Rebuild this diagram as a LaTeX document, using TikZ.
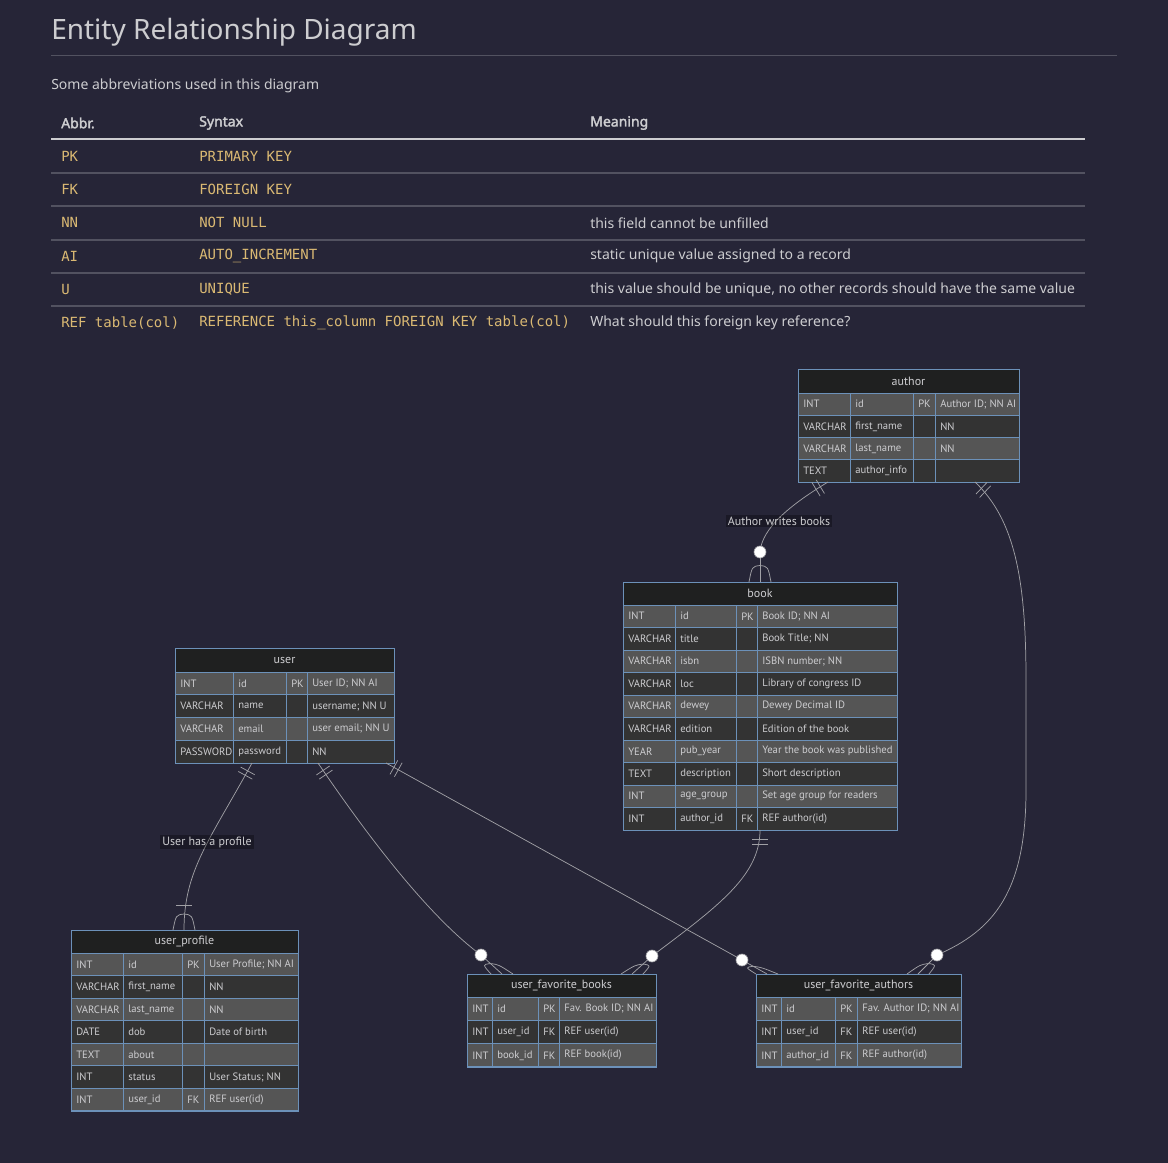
\documentclass[tikz,border=0pt]{standalone}
\usepackage{fontspec}
\setmainfont{Noto Sans}[AutoFakeBold=2.2]
\setmonofont{DejaVu Sans Mono}
\newfontfamily\erfont{PT Sans}
\usepackage{tikz}
\usetikzlibrary{calc,positioning}

\definecolor{pagebg}{RGB}{38,37,55}
\definecolor{txt}{RGB}{205,205,208}
\definecolor{codetxt}{RGB}{218,185,115}
\definecolor{rulegray}{RGB}{82,82,96}
\definecolor{erhead}{RGB}{31,32,32}
\definecolor{erlight}{RGB}{85,85,85}
\definecolor{erdark}{RGB}{51,51,51}
\definecolor{erline}{RGB}{108,145,185}
\definecolor{relgray}{RGB}{160,160,165}

\tikzset{
  celltext/.style={anchor=west, font=\erfont\fontsize{8}{9}\selectfont, text=txt, inner sep=0pt},
  headtext/.style={font=\erfont\fontsize{9}{10}\selectfont, text=txt, inner sep=0pt},
  cellframe/.style={draw=erline, line width=0.75pt},
  relline/.style={draw=relgray, line width=0.55pt},
  circ/.style={fill=white, draw=relgray, line width=0.5pt},
  rellabel/.style={font=\erfont\fontsize{9}{10}\selectfont, text=txt, fill=black, fill opacity=0.3, text opacity=1, inner sep=1.5pt},
  abbrtext/.style={anchor=west, font=\ttfamily\fontsize{10.5}{12}\selectfont, text=codetxt, inner sep=0pt},
  meantext/.style={anchor=west, font=\fontsize{10.5}{12}\selectfont, text=txt, inner sep=0pt},
  colhead/.style={anchor=west, font=\bfseries\fontsize{10.5}{12}\selectfont, text=txt, inner sep=0pt},
}

\newcommand{\ercols}[5]{\def\cA{#1}\def\cB{#2}\def\cC{#3}\def\cD{#4}\def\cE{#5}}
\newcommand{\ertitle}[5]{%
  \def\rtop{#3}\def\rh{#4}%
  \fill[erhead] (\cA,#2) rectangle (\cE,#3);
  \node[headtext] (#1) at ({(\cA+\cE)/2},{(#2+#3)/2}) {#5};
}
\newcommand{\errow}[5]{%
  \pgfmathsetmacro\ya{\rtop+#1*\rh}%
  \pgfmathsetmacro\yb{\ya+\rh}%
  \pgfmathsetmacro\ym{\ya+\rh/2}%
  \pgfmathtruncatemacro\odd{mod(#1,2)}%
  \ifnum\odd=0 \def\rowfill{erlight}\else\def\rowfill{erdark}\fi
  \fill[\rowfill] (\cA,\ya) rectangle (\cE,\yb);
  \draw[cellframe] (\cA,\ya) rectangle (\cB,\yb) (\cB,\ya) rectangle (\cC,\yb)
    (\cC,\ya) rectangle (\cD,\yb) (\cD,\ya) rectangle (\cE,\yb);
  \node[celltext] at (\cA+5,\ym) {#2};
  \node[celltext] at (\cB+5,\ym) {#3};
  \node[celltext] at (\cC+5,\ym) {#4};
  \node[celltext] at (\cD+5,\ym) {#5};
}
\newcommand{\reltick}[3]{%
  \coordinate (rb) at ($(#1)!#3!(#2)$);
  \draw[relline] ($(rb)!6pt!90:(#2)$) -- ($(rb)!6pt!-90:(#2)$);
}
\newcommand{\exactlyone}[2]{\reltick{#1}{#2}{6.75pt}\reltick{#1}{#2}{10.5pt}}
\newcommand{\crowfan}[2]{%
  \draw[relline] (#1) .. controls ($(#1)+(-8,1)$) .. ($(#2)+(-11,0)$);
  \draw[relline] (#1) .. controls ($(#1)+(8,1)$) .. ($(#2)+(11,0)$);
}
\newcommand{\zeromany}[2]{%
  \coordinate (zm) at ($(#1)!0.45!(#2)$);
  \draw[relline] (#1) -- (#2);
  \crowfan{zm}{#2}
  \draw[circ] (#1) circle (4.5pt);
}

\begin{document}
\begin{tikzpicture}[x=0.75pt, y=-0.75pt]
\fill[pagebg] (0,0) rectangle (1168,1163);
\useasboundingbox (0,0) rectangle (1168,1163);

\node[anchor=base west, font=\fontsize{21}{24}\selectfont, text=txt, inner sep=0pt] (title) at (51,40) {Entity Relationship Diagram};
\draw[rulegray] (51,55) -- (1117,55);
\node[meantext] (intro) at (51,86) {Some abbreviations used in this diagram};

\node[colhead] (abbrhead) at (61,123) {Abbr.};
\node[colhead] (synhead) at (199,123) {Syntax};
\node[colhead] (meanhead) at (590,123) {Meaning};
\draw[txt, line width=1pt] (51,139) -- (1085,139);
\foreach \y in {173,206,240,273,306}
  \draw[rulegray, line width=0.8pt] (51,\y) -- (1085,\y);
\foreach \ab/\sy/\me [count=\i from 0] in {
    PK/PRIMARY KEY/{},
    FK/FOREIGN KEY/{},
    NN/NOT NULL/{this field cannot be unfilled},
    AI/AUTO\_INCREMENT/{static unique value assigned to a record},
    U/UNIQUE/{this value should be unique, no other records should have the same value},
    REF table(col)/REFERENCE this\_column FOREIGN KEY table(col)/{What should this foreign key reference?}} {
  \node[abbrtext] (abbr-\i) at (61,156+\i*33.4) {\ab};
  \node[abbrtext] (syn-\i) at (199,156+\i*33.4) {\sy};
  \node[meantext] (mean-\i) at (590,156+\i*33.4) {\me};
}

\ercols{798}{850}{913}{935}{1019}
\ertitle{author}{369}{393}{22.25}{author}
\foreach \ertype/\ername/\erkey/\ernote [count=\i from 0] in {
    INT/id/PK/{Author ID; NN AI},
    VARCHAR/first\_name/{}/NN,
    VARCHAR/last\_name/{}/NN,
    TEXT/author\_info/{}/{}}
  {\errow{\i}{\ertype}{\ername}{\erkey}{\ernote}}
\draw[cellframe] (\cA,369) rectangle (\cE,482);

\ercols{623}{675}{736}{757}{897}
\ertitle{book}{582}{605}{22.5}{book}
\foreach \ertype/\ername/\erkey/\ernote [count=\i from 0] in {
    INT/id/PK/{Book ID; NN AI},
    VARCHAR/title/{}/{Book Title; NN},
    VARCHAR/isbn/{}/{ISBN number; NN},
    VARCHAR/loc/{}/{Library of congress ID},
    VARCHAR/dewey/{}/{Dewey Decimal ID},
    VARCHAR/edition/{}/{Edition of the book},
    YEAR/pub\_year/{}/{Year the book was published},
    TEXT/description/{}/{Short description},
    INT/age\_group/{}/{Set age group for readers},
    INT/author\_id/FK/{REF author(id)}}
  {\errow{\i}{\ertype}{\ername}{\erkey}{\ernote}}
\draw[cellframe] (\cA,582) rectangle (\cE,830);

\ercols{175}{233}{286}{307}{394}
\ertitle{user}{648}{672}{22.75}{user}
\foreach \ertype/\ername/\erkey/\ernote [count=\i from 0] in {
    INT/id/PK/{User ID; NN AI},
    VARCHAR/name/{}/{username; NN U},
    VARCHAR/email/{}/{user email; NN U},
    PASSWORD/password/{}/NN}
  {\errow{\i}{\ertype}{\ername}{\erkey}{\ernote}}
\draw[cellframe] (\cA,648) rectangle (\cE,763);

\ercols{71}{123}{182}{204}{298}
\ertitle{profile}{930}{953}{22.57}{user\_profile}
\foreach \ertype/\ername/\erkey/\ernote [count=\i from 0] in {
    INT/id/PK/{User Profile; NN AI},
    VARCHAR/first\_name/{}/NN,
    VARCHAR/last\_name/{}/NN,
    DATE/dob/{}/{Date of birth},
    TEXT/about/{}/{},
    INT/status/{}/{User Status; NN},
    INT/user\_id/FK/{REF user(id)}}
  {\errow{\i}{\ertype}{\ername}{\erkey}{\ernote}}
\draw[cellframe] (\cA,930) rectangle (\cE,1111);

\ercols{467}{492}{538}{559}{656}
\ertitle{favbooks}{974}{997}{23.33}{user\_favorite\_books}
\foreach \ertype/\ername/\erkey/\ernote [count=\i from 0] in {
    INT/id/PK/{Fav. Book ID; NN AI},
    INT/user\_id/FK/{REF user(id)},
    INT/book\_id/FK/{REF book(id)}}
  {\errow{\i}{\ertype}{\ername}{\erkey}{\ernote}}
\draw[cellframe] (\cA,974) rectangle (\cE,1067);

\ercols{756}{781}{835}{857}{961}
\ertitle{favauthors}{974}{997}{23.33}{user\_favorite\_authors}
\foreach \ertype/\ername/\erkey/\ernote [count=\i from 0] in {
    INT/id/PK/{Fav. Author ID; NN AI},
    INT/user\_id/FK/{REF user(id)},
    INT/author\_id/FK/{REF author(id)}}
  {\errow{\i}{\ertype}{\ername}{\erkey}{\ernote}}
\draw[cellframe] (\cA,974) rectangle (\cE,1067);

\coordinate (author-s1) at (828,482);
\coordinate (author-s2) at (975,482);
\coordinate (book-c) at (760,552);
\coordinate (book-n) at (760,582);
\coordinate (book-s) at (760,830);
\coordinate (user-s1) at (252,763);
\coordinate (user-s2) at (318,763);
\coordinate (user-s3) at (386,763);
\coordinate (profile-n) at (184,930);
\coordinate (favbooks-c1) at (481,955);
\coordinate (favbooks-n1) at (502,974);
\coordinate (favbooks-c2) at (652,956);
\coordinate (favbooks-n2) at (632,974);
\coordinate (favauthors-c1) at (742,960);
\coordinate (favauthors-n1) at (767,974);
\coordinate (favauthors-c2) at (937,955);
\coordinate (favauthors-n2) at (918,974);

\draw[relline] (author-s1) .. controls (790,505) and (762,528) .. (book-c);
\exactlyone{author-s1}{790,505}
\zeromany{book-c}{book-n}

\draw[relline] (author-s2) .. controls (1015,520) and (1026,580) .. (1026,680)
  -- (1026,790) .. controls (1026,890) and (995,930) .. (favauthors-c2);
\exactlyone{author-s2}{1015,520}
\zeromany{favauthors-c2}{favauthors-n2}

\draw[relline] (book-s) .. controls (760,875) and (720,905) .. (favbooks-c2);
\exactlyone{book-s}{760,875}
\zeromany{favbooks-c2}{favbooks-n2}

\draw[relline] (user-s1) .. controls (210,840) and (184,870) .. (profile-n);
\exactlyone{user-s1}{210,840}
\reltick{profile-n}{184,870}{18.75pt}
\crowfan{184,914}{profile-n}

\draw[relline] (user-s2) .. controls (350,810) and (420,910) .. (favbooks-c1);
\exactlyone{user-s2}{350,810}
\zeromany{favbooks-c1}{favbooks-n1}

\draw[relline] (user-s3) -- (favauthors-c1);
\exactlyone{user-s3}{favauthors-c1}
\zeromany{favauthors-c1}{favauthors-n1}

\node[rellabel] (writes) at (779,521) {Author writes books};
\node[rellabel] (hasprofile) at (207,842) {User has a profile};
\end{tikzpicture}
\end{document}
